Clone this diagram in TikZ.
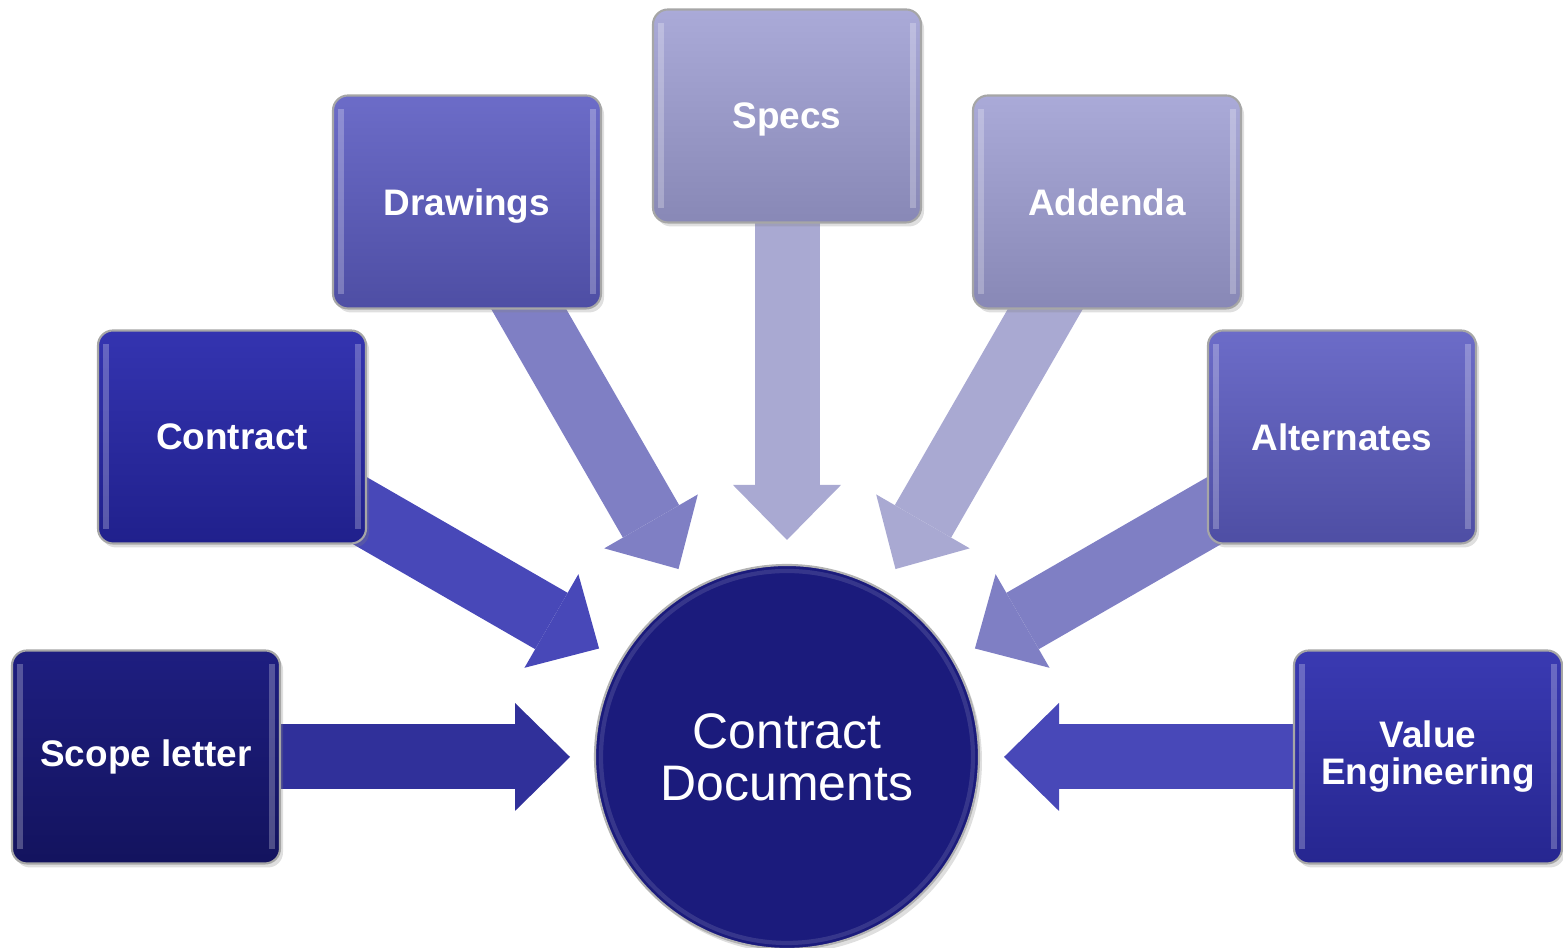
\documentclass[tikz,border=0pt]{standalone}
\usepackage{fontspec}
\setmainfont{Liberation Sans}
\usetikzlibrary{calc,arrows.meta,shadows,backgrounds}

\definecolor{scopeTop}{HTML}{1E1E80}
\definecolor{scopeBot}{HTML}{13135E}
\definecolor{contrTop}{HTML}{3434B0}
\definecolor{contrBot}{HTML}{20208C}
\definecolor{drawTop}{HTML}{6C6CC8}
\definecolor{drawBot}{HTML}{4E4EA4}
\definecolor{specTop}{HTML}{AAAAD8}
\definecolor{specBot}{HTML}{8888B6}
\definecolor{veTop}{HTML}{3A3AB2}
\definecolor{veBot}{HTML}{262690}
\definecolor{docFill}{HTML}{1B1B7C}
\definecolor{arrA}{HTML}{30309A}
\definecolor{arrB}{HTML}{4848B8}
\definecolor{arrC}{HTML}{7F7FC4}
\definecolor{arrD}{HTML}{A9A9D2}

\tikzset{
  box/.style={rounded corners=0.15cm, minimum width=2.68cm, minimum height=2.13cm,
    inner sep=2pt, align=center, text=white, draw=black!35, line width=0.6pt,
    font=\fontsize{10.5}{10.5}\selectfont\bfseries,
    drop shadow={shadow xshift=0.03cm, shadow yshift=-0.04cm, opacity=0.25},
    path picture={
      \draw[white, opacity=0.25, line width=1.6pt]
        ([xshift=0.08cm, yshift=-0.14cm]path picture bounding box.north west) --
        ([xshift=0.08cm, yshift=0.14cm]path picture bounding box.south west);
      \draw[white, opacity=0.25, line width=1.6pt]
        ([xshift=-0.08cm, yshift=-0.14cm]path picture bounding box.north east) --
        ([xshift=-0.08cm, yshift=0.14cm]path picture bounding box.south east);
    }},
  flow/.style={line width=0.65cm,
    -{Triangle[length=0.55cm 0, width=1.08cm 0, line width=0pt]}}
}

\begin{document}
\begin{tikzpicture}
	\useasboundingbox (0,0) rectangle (15.63,9.48);
	
	%centre
	\node[circle, minimum size=3.84cm, fill=docFill, draw=black!30, line width=0.6pt,
	  text=white, align=center, font=\fontsize{14.2}{14.8}\selectfont,
	  drop shadow={shadow xshift=0.03cm, shadow yshift=-0.04cm, opacity=0.25}]
	  (doc) at (7.87,1.91) {Contract\\Documents};
	\draw[white, opacity=0.12, line width=1.2pt] (doc.center) circle (1.86);
	
	%boxes
	\node[box, top color=scopeTop, bottom color=scopeBot] (scope) at (1.46,1.91) {Scope letter};
	\node[box, top color=contrTop, bottom color=contrBot] (contr) at (2.32,5.11) {Contract};
	\node[box, top color=drawTop, bottom color=drawBot, text depth=0pt] (drw) at (4.67,7.46) {Drawings};
	\node[box, top color=specTop, bottom color=specBot, text depth=0pt] (spec) at (7.87,8.32) {Specs};
	\node[box, top color=specTop, bottom color=specBot] (add) at (11.07,7.46) {Addenda};
	\node[box, top color=drawTop, bottom color=drawBot] (alt) at (13.42,5.11) {Alternates};
	\node[box, top color=veTop, bottom color=veBot] (ve) at (14.28,1.91) {Value\\Engineering};
	
	%arrow tips
	\coordinate (tScope) at ($(doc.center)+(180:2.17)$);
	\coordinate (tContr) at ($(doc.center)+(150:2.17)$);
	\coordinate (tDrw) at ($(doc.center)+(120:2.17)$);
	\coordinate (tSpec) at ($(doc.center)+(90:2.17)$);
	\coordinate (tAdd) at ($(doc.center)+(60:2.17)$);
	\coordinate (tAlt) at ($(doc.center)+(30:2.17)$);
	\coordinate (tVe) at ($(doc.center)+(0:2.17)$);
	
	%arrows
	\begin{scope}[on background layer]
	\draw[flow, arrA] (scope.center) -- (tScope);
	\draw[flow, arrB] (contr.center) -- (tContr);
	\draw[flow, arrC] (drw.center) -- (tDrw);
	\draw[flow, arrD] (spec.center) -- (tSpec);
	\draw[flow, arrD] (add.center) -- (tAdd);
	\draw[flow, arrC] (alt.center) -- (tAlt);
	\draw[flow, arrB] (ve.center) -- (tVe);
	\end{scope}
\end{tikzpicture}
\end{document}
